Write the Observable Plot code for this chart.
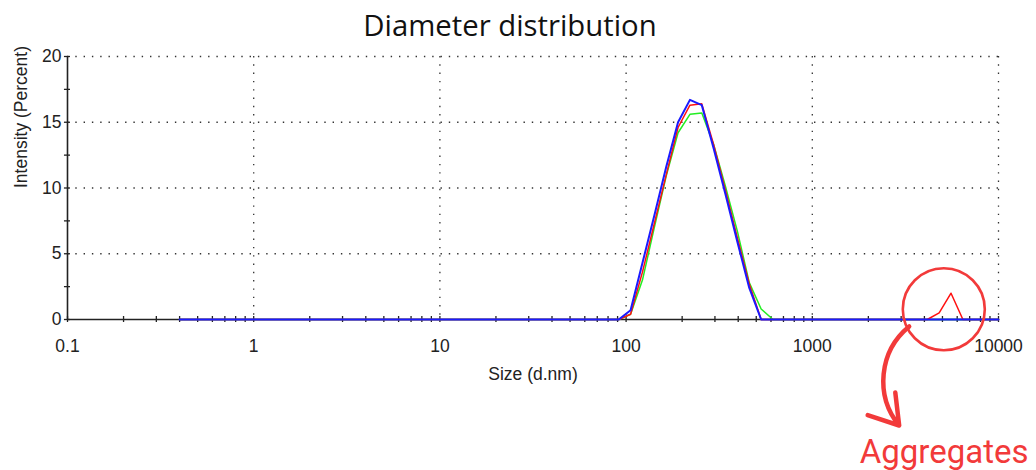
<!DOCTYPE html>
<html>
<head>
<meta charset="utf-8">
<script src="https://cdn.jsdelivr.net/npm/d3@7"></script>
<script src="https://cdn.jsdelivr.net/npm/@observablehq/plot@0.6"></script>
<style>
  html, body { margin: 0; padding: 0; background: #fff; }
  #wrap { position: relative; width: 1036px; height: 470px; overflow: hidden; background: #fff; }
  #title { position: absolute; top: 5px; left: 0; width: 1020px; text-align: center;
           font-family: "Open Sans", sans-serif; font-size: 29.3px; line-height: normal; color: #111; }
  #chart { position: absolute; top: 44px; left: 0; }
</style>
</head>
<body>
<div id="wrap">
  <div id="title">Diameter distribution</div>
  <div id="chart"></div>
</div>
<script>
// Size classes (d.nm)
const sizes = [
  0.4000, 0.4632, 0.5365, 0.6213, 0.7195, 0.8332, 0.9649, 1.117, 1.294, 1.499,
  1.736, 2.010, 2.328, 2.696, 3.122, 3.615, 4.187, 4.849, 5.615, 6.503,
  7.531, 8.721, 10.10, 11.70, 13.54, 15.69, 18.17, 21.04, 24.36, 28.21,
  32.67, 37.84, 43.82, 50.75, 58.77, 68.06, 78.82, 91.28, 105.7, 122.4,
  141.8, 164.2, 190.1, 220.2, 255.0, 295.3, 342.0, 396.1, 458.7, 531.2,
  615.1, 712.4, 825.0, 955.4, 1106, 1281, 1484, 1718, 1990, 2305,
  2669, 3091, 3580, 4145, 4801, 5560, 6439, 7456, 8635, 10000
];
// Intensity (%) per record
const blueRecord = [
  0,0,0,0,0,0,0,0,0,0,
  0,0,0,0,0,0,0,0,0,0,
  0,0,0,0,0,0,0,0,0,0,
  0,0,0,0,0,0,0,0,0.7,4.3,
  7.9,11.6,15.0,16.7,16.3,13.0,9.5,5.9,2.4,0,
  0,0,0,0,0,0,0,0,0,0,
  0,0,0,0,0,0,0,0,0,0
];
const redRecord = [
  0,0,0,0,0,0,0,0,0,0,
  0,0,0,0,0,0,0,0,0,0,
  0,0,0,0,0,0,0,0,0,0,
  0,0,0,0,0,0,0,0,0.4,3.6,
  7.3,11.0,14.6,16.3,16.4,13.3,9.8,6.2,2.7,0,
  0,0,0,0,0,0,0,0,0,0,
  0,0,0,0,0.5,2.0,0,0,0,0
];
const greenRecord = [
  0,0,0,0,0,0,0,0,0,0,
  0,0,0,0,0,0,0,0,0,0,
  0,0,0,0,0,0,0,0,0,0,
  0,0,0,0,0,0,0,0,0.4,3.0,
  7.0,10.9,14.2,15.6,15.7,13.3,10.1,6.7,2.8,0.8,
  0,0,0,0,0,0,0,0,0,0,
  0,0,0,0,0,0,0,0,0,0
];

const xTicks = [0.1, 1, 10, 100, 1000, 10000];
const xTickLabels = ["0.1", "1", "10", "100", "1000", "10000"];
const yTicks = [0, 5, 10, 15, 20];
const yTickLabels = ["0", "5", "10", "15", "20"];
const yMinorTicks = [0, 2.5, 5, 7.5, 10, 12.5, 15, 17.5, 20];
const multipliers = [1, 2, 3, 4, 5, 6, 7, 8, 9];
const xMinorTicks = xTicks.slice(0, -1).flatMap(d => multipliers.map(m => d * m)).concat([10000]);

const xLabelOf = new Map(xTicks.map((t, i) => [t, xTickLabels[i]]));
const yLabelOf = new Map(yTicks.map((t, i) => [t, yTickLabels[i]]));

const toRows = (vals) => sizes.map((s, i) => ({size: s, v: vals[i]}));
const blueRows = toRows(blueRecord), redRows = toRows(redRecord), greenRows = toRows(greenRecord);

const annotation = {x: 5084, y: 0.78, ax1: 3313, ay1: -0.53, ax2: 2928, ay2: -8.06, tx: 5104, ty: -10.1, text: "Aggregates"};

const red = "#f23a3a";
const gridStyle = {stroke: "#333", strokeWidth: 1.3, strokeDasharray: "1.4,6.9"};

const chart = Plot.plot({
  width: 1036,
  height: 426,
  marginLeft: 67,
  marginRight: 38,
  marginTop: 12,
  marginBottom: 151,
  style: {fontFamily: "'Liberation Sans', Arial, sans-serif", fontSize: "17.5px", color: "#222", background: "transparent", overflow: "visible"},
  x: {type: "log", domain: [0.1, 10000]},
  y: {domain: [0, 20]},
  marks: [
    // dotted grid
    Plot.ruleY(yTicks.filter(d => d > 0), {y: d => d, ...gridStyle}),
    Plot.ruleX(xTicks.filter(d => d > 0.1), {x: d => d, ...gridStyle}),
    // axis lines
    Plot.ruleY([0], {stroke: "#222", strokeWidth: 1.6}),
    Plot.ruleX([0.1], {stroke: "#222", strokeWidth: 1.6}),
    // tick marks crossing the axes
    Plot.ruleX(xMinorTicks, {x: d => d, y1: -0.23, y2: 0.23, stroke: "#222", strokeWidth: 1.3}),
    Plot.ruleY(yMinorTicks, {y: d => d, x1: 0.0963, x2: 0.1038, stroke: "#222", strokeWidth: 1.3}),
    // tick labels
    Plot.axisX(xTicks, {tickSize: 0, tickPadding: 20, tickFormat: d => xLabelOf.get(d), label: null}),
    Plot.axisY(yTicks, {tickSize: 0, tickPadding: 6, tickFormat: d => yLabelOf.get(d), label: null}),
    // axis titles
    Plot.text(["Size (d.nm)"], {frameAnchor: "bottom", dy: 60, text: d => d, fill: "#222"}),
    Plot.text(["Intensity (Percent)"], {frameAnchor: "left", dx: -46, rotate: -90, text: d => d, fill: "#222"}),
    // data
    Plot.line(greenRows, {x: "size", y: "v", stroke: "#22ee22", strokeWidth: 1.5}),
    Plot.line(redRows, {x: "size", y: "v", stroke: "#ff1010", strokeWidth: 1.5}),
    Plot.line(blueRows, {x: "size", y: "v", stroke: "#1a1aff", strokeWidth: 2}),
    // annotation
    Plot.dot([annotation], {x: "x", y: "y", r: 41, stroke: red, strokeWidth: 2.6, fill: "none"}),
    Plot.arrow([annotation], {x1: "ax1", y1: "ay1", x2: "ax2", y2: "ay2", bend: -45, headLength: 18, headAngle: 65, stroke: red, strokeWidth: 4.5}),
    Plot.text([annotation], {x: "tx", y: "ty", text: "text", fill: red, fontSize: 33, fontFamily: "Roboto, sans-serif"})
  ]
});
document.getElementById("chart").appendChild(chart);
</script>
</body>
</html>
